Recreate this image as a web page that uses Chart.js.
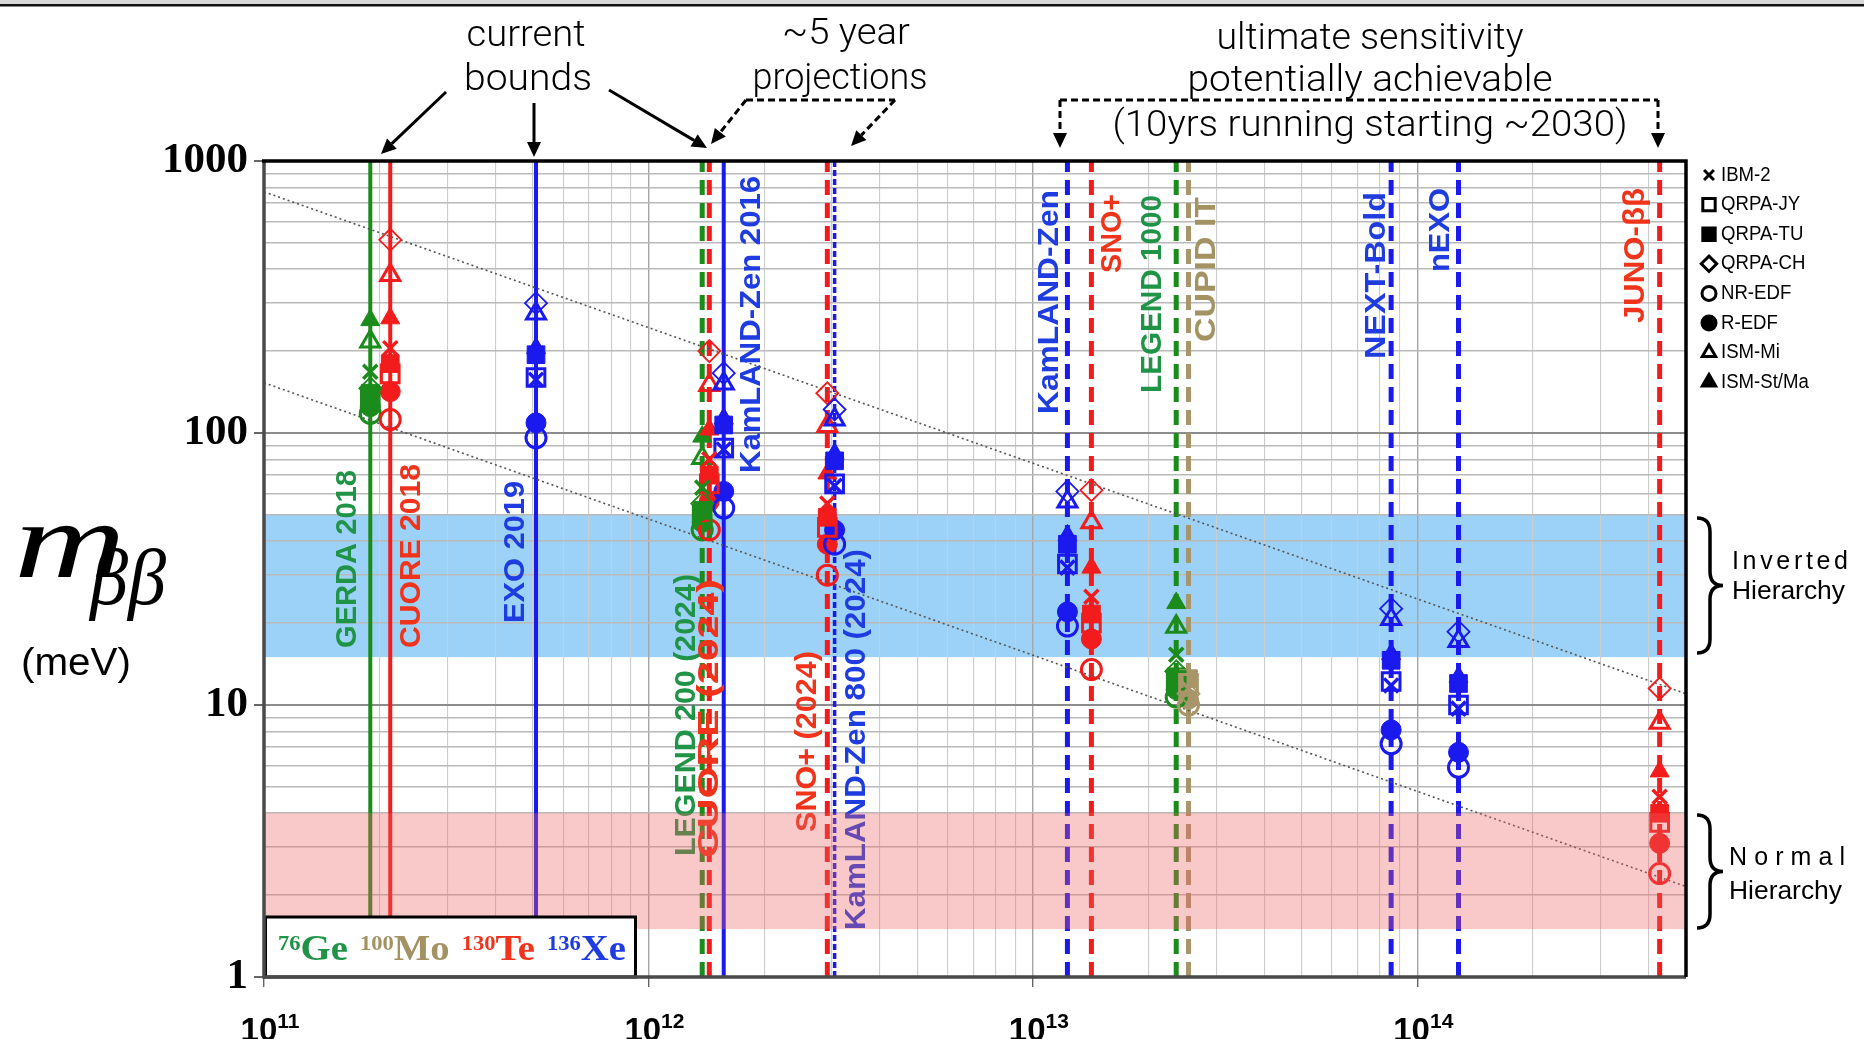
<!DOCTYPE html>
<html>
<head>
<meta charset="utf-8">
<script src="https://cdn.jsdelivr.net/npm/chart.js@4.4.1/dist/chart.umd.min.js"></script>
<style>
  html, body { margin: 0; padding: 0; background: #fff; overflow: hidden; }
  #wrap { width: 1864px; height: 1039px; position: relative; }
</style>
</head>
<body>
<div id="wrap"><canvas id="c"></canvas></div>
<script>
// ---- data ----
const experiments = ['GERDA 2018', 'CUORE 2018', 'EXO 2019', 'LEGEND 200 (2024)', 'CUORE (2024)',
  'KamLAND-Zen 2016', 'SNO+ (2024)', 'KamLAND-Zen 800 (2024)', 'KamLAND-Zen', 'SNO+',
  'LEGEND 1000', 'CUPID IT', 'NEXT-Bold', 'nEXO', 'JUNO-ββ'];
const isotopes = ['Ge', 'Te', 'Xe', 'Ge', 'Te', 'Xe', 'Te', 'Xe', 'Xe', 'Te', 'Ge', 'Mo', 'Xe', 'Xe', 'Te'];
const exposures = [1.89e11, 2.13e11, 5.1e11, 1.38e12, 1.44e12, 1.57e12, 2.92e12, 3.05e12,
  1.23e13, 1.42e13, 2.36e13, 2.54e13, 8.55e13, 1.28e14, 4.27e14];

const modelNames = ['IBM-2', 'QRPA-JY', 'QRPA-TU', 'QRPA-CH', 'NR-EDF', 'R-EDF', 'ISM-Mi', 'ISM-St/Ma'];
const ibm2    = [168, 205, 157, 63, 80, 87, 55, 64, 32, 25, 15.3, 11.5, 11.8, 9.7, 4.6];
const qrpaJY  = [135, 165, 160, 50, 65, 88, 45, 65, 33, 20, 12.3, 12.0, 12.2, 10.0, 3.7];
const qrpaTU  = [140, 180, 194, 52, 70, 107, 49, 79, 39, 21.6, 12.7, 12.5, 14.6, 12.0, 4.0];
const qrpaCH  = [146, 513, 300, 55, 200, 166, 140, 122, 61, 61.6, 13.3, 11.0, 22.6, 18.6, 11.5];
const nrEDF   = [118, 112, 96, 44, 44, 53, 30, 39, 19.5, 13.5, 10.7, 10.0, 7.2, 5.9, 2.4];
const rEDF    = [125, 142, 109, 47, 56, 61, 39, 44, 22, 17.5, 11.4, 10.5, 8.1, 6.7, 3.1];
const ismMi   = [217, 381, 275, 81, 150, 152, 106, 112, 56, 47, 19.4, null, 20.7, 17.2, 8.6];
const ismStMa = [260, 264, 205, 97, 103, 113, 71, 84, 42, 32, 23.7, null, 15.4, 12.7, 5.7];

const invertedBand = [15, 50];
const normalBand = [1.5, 4];
const upperGuideX = [1e11, 5e14], upperGuideY = [770, 11];
const lowerGuideX = [1e11, 5e14], lowerGuideY = [153, 2.15];
const yTicks = [1, 10, 100, 1000];
const xDecades = [11, 12, 13, 14];
const xMax = 5e14;

// ---- styles ----
const lineColor = { Ge: '#1b8c1b', Mo: '#a8966a', Te: '#f21c1c', Xe: '#1a1aef' };
const textColor = { Ge: '#1f9447', Mo: '#a39262', Te: '#f0341c', Xe: '#1f3ce0' };
const lineKind = ['solid', 'solid', 'solid', 'dash', 'dash', 'solid', 'dash', 'fine',
  'dash', 'dash', 'dash', 'dash', 'dash', 'dash', 'dash'];
const dashes = { solid: [], dash: [15, 8], fine: [6, 3] };
const widths = { solid: 4, dash: 5, fine: 3.5 };
const markerStyles = [
  { style: 'crossRot', filled: false, r: 10, w: 3.5 },
  { style: 'rect', filled: false, r: 12.5, w: 3 },
  { style: 'rect', filled: true, r: 12.5, w: 1 },
  { style: 'rectRot', filled: false, r: 11, w: 1.8 },
  { style: 'circle', filled: false, r: 10, w: 3 },
  { style: 'circle', filled: true, r: 10, w: 1 },
  { style: 'triangle', filled: false, r: 11, w: 3 },
  { style: 'triangle', filled: true, r: 11, w: 1 }
];
// rotated label placement: x offset from the line, bottom and top in px
const labelLayout = [[-23, 648, 470], [21, 648, 464], [-20, 623, 481], [-15, 856, 574], [0, 858, 579],
  [28, 473, 176], [-20, 832, 651], [22, 930, 549], [-18, 414, 190], [21, 273, 194],
  [-23, 393, 195], [18, 342, 197], [-14, 359, 192], [-18, 272, 188], [-24, 323, 188]];

const modelValues = [ibm2, qrpaJY, qrpaTU, qrpaCH, nrEDF, rEDF, ismMi, ismStMa];
const yMin = yTicks[0], yMax = yTicks[yTicks.length - 1];
const isDecade = v => Math.abs(Math.log10(v) - Math.round(Math.log10(v))) < 1e-6;

const yGrid = [];
for (let e = 0; e < 3; e++) for (let k = 1; k < 10; k++) yGrid.push(k * Math.pow(10, e));
yGrid.push(yMax);
const xGrid = [];
for (const e of xDecades) for (let k = 1; k < 10; k++) { const v = k * Math.pow(10, e); if (v <= xMax) xGrid.push(v); }
xGrid.push(xMax);

const markerDatasets = modelNames.map((name, m) => {
  const st = markerStyles[m];
  return {
    label: name,
    data: exposures.map((x, i) => ({ x: x, y: modelValues[m][i] })),
    pointStyle: st.style,
    pointRadius: st.r,
    pointBorderWidth: st.w,
    pointBorderColor: isotopes.map(k => lineColor[k]),
    pointBackgroundColor: isotopes.map(k => st.filled ? lineColor[k] : 'rgba(0,0,0,0)'),
    showLine: false,
    order: 0
  };
});

const guideDatasets = [[upperGuideX, upperGuideY], [lowerGuideX, lowerGuideY]].map(([xs, ys]) => ({
  label: 'guide',
  data: xs.map((x, i) => ({ x: x, y: ys[i] })),
  showLine: true, pointRadius: 0, borderColor: '#555', borderWidth: 1.6, borderDash: [2, 3], order: 1
}));

const boundDatasets = experiments.map((name, i) => ({
  label: name,
  data: [{ x: exposures[i], y: yMin }, { x: exposures[i], y: yMax }],
  showLine: true, pointRadius: 0,
  borderColor: lineColor[isotopes[i]],
  borderWidth: widths[lineKind[i]],
  borderDash: dashes[lineKind[i]],
  order: 2
}));

// ---- drawing helpers ----
function fitText(ctx, text, x, y, width, align) {
  const w = ctx.measureText(text).width;
  ctx.save();
  ctx.translate(x, y);
  ctx.scale(width / w, 1);
  ctx.textAlign = align || 'left';
  ctx.fillText(text, 0, 0);
  ctx.restore();
}

function spacedText(ctx, text, x, y, width) {
  const chars = text.split('');
  const ws = chars.map(c => ctx.measureText(c).width);
  const gap = (width - ws.reduce((a, b) => a + b, 0)) / (chars.length - 1);
  let cx = x;
  chars.forEach((c, i) => { ctx.fillText(c, cx, y); cx += ws[i] + gap; });
}

function vLabel(ctx, text, x, yBot, yTop, color) {
  ctx.save();
  ctx.font = 'bold 30px "Liberation Sans", Arial, sans-serif';
  const w = ctx.measureText(text).width;
  ctx.translate(x, yBot);
  ctx.rotate(-Math.PI / 2);
  ctx.scale((yBot - yTop) / w, 1);
  ctx.fillStyle = color;
  ctx.textBaseline = 'middle';
  ctx.fillText(text, 0, 0);
  ctx.restore();
}

function arrow(ctx, x1, y1, x2, y2, dash) {
  const ang = Math.atan2(y2 - y1, x2 - x1), hl = 15, hw = 7;
  const bx = x2 - hl * Math.cos(ang), by = y2 - hl * Math.sin(ang);
  ctx.save();
  ctx.strokeStyle = '#000'; ctx.fillStyle = '#000'; ctx.lineWidth = 3;
  ctx.setLineDash(dash || []);
  ctx.beginPath(); ctx.moveTo(x1, y1); ctx.lineTo(bx, by); ctx.stroke();
  ctx.setLineDash([]);
  ctx.beginPath(); ctx.moveTo(x2, y2);
  ctx.lineTo(bx + hw * Math.sin(ang), by - hw * Math.cos(ang));
  ctx.lineTo(bx - hw * Math.sin(ang), by + hw * Math.cos(ang));
  ctx.closePath(); ctx.fill();
  ctx.restore();
}

function brace(ctx, x, yTop, yBot, w) {
  const ym = (yTop + yBot) / 2, h = w * 0.5;
  ctx.beginPath();
  ctx.moveTo(x, yTop);
  ctx.quadraticCurveTo(x + h, yTop, x + h, yTop + 14);
  ctx.lineTo(x + h, ym - 14);
  ctx.quadraticCurveTo(x + h, ym, x + w, ym);
  ctx.quadraticCurveTo(x + h, ym, x + h, ym + 14);
  ctx.lineTo(x + h, yBot - 14);
  ctx.quadraticCurveTo(x + h, yBot, x, yBot);
  ctx.stroke();
}

const overlay = {
  id: 'overlay',
  beforeDraw(chart) {
    const { ctx, chartArea: a, scales: { y } } = chart;
    ctx.save();
    ctx.fillStyle = '#9cd2f7';
    const t = y.getPixelForValue(invertedBand[1]), b = y.getPixelForValue(invertedBand[0]);
    ctx.fillRect(a.left, t, a.right - a.left, b - t);
    ctx.restore();
  },
  afterDatasetsDraw(chart) {
    const { ctx, chartArea: a, scales: { x, y } } = chart;
    // experiment labels
    experiments.forEach((name, i) => {
      const [dx, yb, yt] = labelLayout[i];
      vLabel(ctx, name, x.getPixelForValue(exposures[i]) + dx, yb, yt, textColor[isotopes[i]]);
    });
    // normal hierarchy band laid over the lines
    ctx.save();
    ctx.globalAlpha = 0.35;
    ctx.fillStyle = 'rgb(238,98,98)';
    const t = y.getPixelForValue(normalBand[1]), b = y.getPixelForValue(normalBand[0]);
    ctx.fillRect(a.left, t, a.right - a.left, b - t);
    ctx.restore();
  },
  afterDraw(chart) {
    const { ctx, chartArea: a, scales: { x } } = chart;
    ctx.save();
    // isotope box
    ctx.fillStyle = '#fff';
    ctx.fillRect(a.left, 917, 372, a.bottom - 917);
    ctx.strokeStyle = '#000'; ctx.lineWidth = 3;
    ctx.strokeRect(a.left + 1.5, 917, 370, a.bottom - 917);
    const parts = [['76', 'Ge', 'Ge'], ['100', 'Mo', 'Mo'], ['130', 'Te', 'Te'], ['136', 'Xe', 'Xe']];
    const bigF = 'bold 36px "Liberation Serif", serif', supF = 'bold 21px "Liberation Serif", serif';
    let total = 0;
    parts.forEach(([s, t]) => {
      ctx.font = supF; total += ctx.measureText(s).width;
      ctx.font = bigF; total += ctx.measureText(t).width;
    });
    const sc = (348 - 3 * 12) / total;
    let px = 278;
    parts.forEach(([s, t, k]) => {
      ctx.fillStyle = textColor[k];
      ctx.font = supF;
      let w = ctx.measureText(s).width * sc;
      fitText(ctx, s, px, 950, w); px += w;
      ctx.font = bigF;
      w = ctx.measureText(t).width * sc;
      fitText(ctx, t, px, 960, w); px += w + 12;
    });

    // plot frame
    ctx.lineWidth = 3.5;
    ctx.strokeStyle = '#4a4a4a';
    ctx.beginPath(); ctx.moveTo(a.left, a.top); ctx.lineTo(a.left, a.bottom); ctx.lineTo(a.right, a.bottom); ctx.stroke();
    ctx.strokeStyle = '#000';
    ctx.beginPath(); ctx.moveTo(a.left - 2, a.top); ctx.lineTo(a.right, a.top); ctx.lineTo(a.right, a.bottom); ctx.stroke();

    // top border of the picture
    ctx.fillStyle = '#d8d8d8'; ctx.fillRect(0, 0, 1864, 4);
    ctx.fillStyle = '#111'; ctx.fillRect(0, 4, 1864, 2.5);

    // x tick labels with superscripts
    ctx.fillStyle = '#000';
    xDecades.forEach(e => {
      ctx.font = 'bold 33px "Liberation Sans", Arial, sans-serif';
      const w1 = ctx.measureText('10').width;
      ctx.font = 'bold 21px "Liberation Sans", Arial, sans-serif';
      const w2 = ctx.measureText(String(e)).width;
      const cx = x.getPixelForValue(Math.pow(10, e)) + 6;
      const left = cx - (w1 + w2) / 2;
      ctx.font = 'bold 33px "Liberation Sans", Arial, sans-serif';
      ctx.textAlign = 'left'; ctx.textBaseline = 'alphabetic';
      ctx.fillText('10', left, 1041);
      ctx.font = 'bold 21px "Liberation Sans", Arial, sans-serif';
      ctx.fillText(String(e), left + w1, 1028);
    });

    // y axis title
    ctx.fillStyle = '#000';
    ctx.font = 'italic 108px "Liberation Serif", serif';
    fitText(ctx, 'm', 14, 577, 112);
    ctx.font = 'italic 80px "Liberation Serif", serif';
    fitText(ctx, 'ββ', 90, 604, 76);
    ctx.font = '38px "Liberation Sans", Arial, sans-serif';
    ctx.textBaseline = 'middle';
    fitText(ctx, '(meV)', 21, 665, 110);

    // top annotations
    ctx.font = '300 36px Roboto, "Liberation Sans", sans-serif';
    const notes = [['current', 526, 37, 119], ['bounds', 528, 81, 128], ['~5 year', 846, 35, 128],
      ['projections', 840, 80, 175], ['ultimate sensitivity', 1370, 40, 307],
      ['potentially achievable', 1370, 82, 365], ['(10yrs running starting ~2030)', 1370, 127, 515]];
    notes.forEach(([t, cx, cy, w]) => fitText(ctx, t, cx - w / 2, cy, w));
    arrow(ctx, 446, 92, 381, 154);
    arrow(ctx, 534, 103, 534, 157);
    arrow(ctx, 609, 90, 707, 148);
    ctx.setLineDash([7, 4]); ctx.lineWidth = 3; ctx.strokeStyle = '#000';
    ctx.beginPath(); ctx.moveTo(746, 100); ctx.lineTo(895, 100); ctx.stroke();
    ctx.beginPath(); ctx.moveTo(1060, 100); ctx.lineTo(1658, 100); ctx.stroke();
    ctx.setLineDash([]);
    arrow(ctx, 746, 100, 711, 144, [7, 4]);
    arrow(ctx, 895, 100, 851, 146, [7, 4]);
    arrow(ctx, 1060, 100, 1060, 148, [7, 4]);
    arrow(ctx, 1658, 100, 1658, 148, [7, 4]);

    // model legend
    ctx.font = '20px "Liberation Sans", Arial, sans-serif';
    ctx.textBaseline = 'middle'; ctx.textAlign = 'left';
    modelNames.forEach((name, m) => {
      const st = markerStyles[m];
      const ly = 175 + m * 29.6;
      ctx.strokeStyle = '#000';
      ctx.fillStyle = st.filled ? '#000' : 'rgba(0,0,0,0)';
      Chart.helpers.drawPoint(ctx, { pointStyle: st.style, rotation: 0, radius: st.r * 0.7, borderWidth: st.w }, 1709, ly);
      ctx.fillStyle = '#000';
      fitText(ctx, name, 1721, ly, ctx.measureText(name).width * 0.93);
    });

    // hierarchy braces
    ctx.strokeStyle = '#000'; ctx.lineWidth = 3.5;
    brace(ctx, 1697, 518, 653, 26);
    brace(ctx, 1697, 815, 928, 26);
    ctx.fillStyle = '#000';
    ctx.font = '25px "Liberation Sans", Arial, sans-serif';
    spacedText(ctx, 'Inverted', 1732, 562, 116);
    fitText(ctx, 'Hierarchy', 1732, 592, 113);
    spacedText(ctx, 'Normal', 1729, 858, 116);
    fitText(ctx, 'Hierarchy', 1729, 892, 113);
    ctx.restore();
  }
};

new Chart(document.getElementById('c'), {
  type: 'scatter',
  data: { datasets: [...markerDatasets, ...guideDatasets, ...boundDatasets] },
  options: {
    responsive: true,
    maintainAspectRatio: false,
    animation: false,
    events: [],
    layout: { padding: { left: 164, top: 161, right: 178, bottom: 0 } },
    plugins: { legend: { display: false }, tooltip: { enabled: false } },
    scales: {
      x: {
        type: 'logarithmic', min: xGrid[0], max: xMax,
        afterBuildTicks: s => { s.ticks = xGrid.map(v => ({ value: v })); },
        afterFit: s => { s.height = 62; },
        border: { display: false },
        grid: {
          color: c => isDecade(c.tick.value) ? '#a6a6a6' : '#cdcdcd',
          lineWidth: c => isDecade(c.tick.value) ? 1.4 : 1.1,
          tickLength: 10,
          tickColor: c => isDecade(c.tick.value) ? '#666' : 'rgba(0,0,0,0)'
        },
        ticks: { display: false, autoSkip: false }
      },
      y: {
        type: 'logarithmic', min: yMin, max: yMax,
        afterBuildTicks: s => { s.ticks = yGrid.map(v => ({ value: v })); },
        afterFit: s => { s.width = 100; },
        border: { display: false },
        grid: {
          color: c => isDecade(c.tick.value) ? '#8c8c8c' : '#bababa',
          lineWidth: c => isDecade(c.tick.value) ? 2 : 1.5,
          tickLength: 10,
          tickColor: c => isDecade(c.tick.value) ? '#666' : 'rgba(0,0,0,0)'
        },
        ticks: {
          autoSkip: false, padding: 6, color: '#000',
          font: { family: '"Liberation Serif", serif', size: 43, weight: 'bold' },
          callback: v => yTicks.includes(v) ? String(v) : ''
        }
      }
    }
  },
  plugins: [overlay]
});
</script>
</body>
</html>
